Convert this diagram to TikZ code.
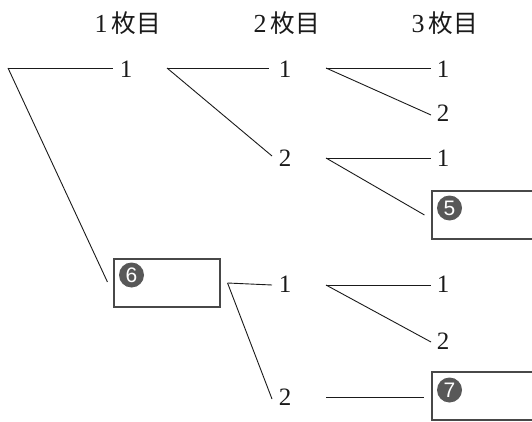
\documentclass[tikz,border=0pt]{standalone}
\usepackage{fontspec}
\newfontfamily\cjk{Noto Sans CJK JP}[Scale=0.95]
\newfontfamily\digitfont{Liberation Serif}
\newfontfamily\badgefont{Liberation Sans}
\definecolor{ink}{HTML}{1A1A1A}
\definecolor{badgegray}{HTML}{585858}
\definecolor{boxgray}{HTML}{484848}
\begin{document}
\begin{tikzpicture}[x=1pt,y=-1pt,
  num/.style={inner sep=0pt,text=ink,font=\digitfont\fontsize{25}{29}\selectfont},
  head/.style={inner sep=0pt,text=ink,font=\digitfont\fontsize{26}{30}\selectfont},
  link/.style={draw=ink,line width=0.9pt},
  answerbox/.style={draw=boxgray,line width=1.1pt,minimum width=106pt,minimum height=48pt,inner sep=0pt},
  badge/.style={circle,fill=badgegray,minimum size=25pt,inner sep=0pt,text=white,font=\badgefont\fontsize{21}{23}\selectfont}]
\clip (0,0) rectangle (532,422);
% headers
\node[head] (h1) at (128,23) {1\,{\cjk 枚目}};
\node[head] (h2) at (287,23) {2\,{\cjk 枚目}};
\node[head] (h3) at (445,23) {3\,{\cjk 枚目}};
% root
\coordinate (R) at (8,68);
% level 1
\node[num] (a1) at (126,69) {1};
\node[answerbox] (b6) at (167,283) {};
\node[badge] (g6) at (131.5,275) {6};
% level 2
\node[num] (b1) at (285,69) {1};
\node[num] (b2) at (285,158) {2};
\node[num] (d1) at (285,284) {1};
\node[num] (d2) at (285,397) {2};
% level 3
\node[num] (c1) at (443,69) {1};
\node[num] (c2) at (443,113) {2};
\node[num] (c3) at (443,158) {1};
\node[num] (e1) at (443,284) {1};
\node[num] (e2) at (443,341) {2};
\node[answerbox,minimum width=110pt] (b5) at (487,215) {};
\node[badge] (g5) at (449.5,208) {5};
\node[answerbox,minimum width=110pt] (b7) at (487,396) {};
\node[badge] (g7) at (449.5,390) {7};
% connectors
\draw[link] (R) -- ([xshift=-13pt]a1.center |- R);
\draw[link] (R) -- ([xshift=-6pt,yshift=1pt]b6.west);
\draw[link] ([xshift=41pt]a1.center |- R) coordinate (a1o) -- ([xshift=-16pt]b1.center |- R);
\draw[link] (a1o) -- ([xshift=-13pt,yshift=2pt]b2.center);
\draw[link] ([xshift=41pt]b1.center |- R) coordinate (b1o) -- ([xshift=-12pt]c1.center |- R);
\draw[link] (b1o) -- ([xshift=-12pt,yshift=-2pt]c2.center);
\draw[link] ([xshift=41pt]b2.center) coordinate (b2o) -- ([xshift=-12pt]c3.center);
\draw[link] (b2o) -- ([xshift=-7pt]b5.west);
\draw[link] ([xshift=7pt]b6.east) coordinate (b6o) -- ([xshift=-13pt,yshift=-1pt]d1.center);
\draw[link] (b6o) -- ([xshift=-13pt,yshift=-2pt]d2.center);
\draw[link] ([xshift=41pt,yshift=-1pt]d1.center) coordinate (d1o) -- ([xshift=-12pt,yshift=-1pt]e1.center);
\draw[link] (d1o) -- ([xshift=-12pt,yshift=-1pt]e2.center);
\draw[link] ([xshift=41pt]d2.center) coordinate (d2o) -- ([xshift=-7pt]b7.west |- d2o);
\end{tikzpicture}
\end{document}
